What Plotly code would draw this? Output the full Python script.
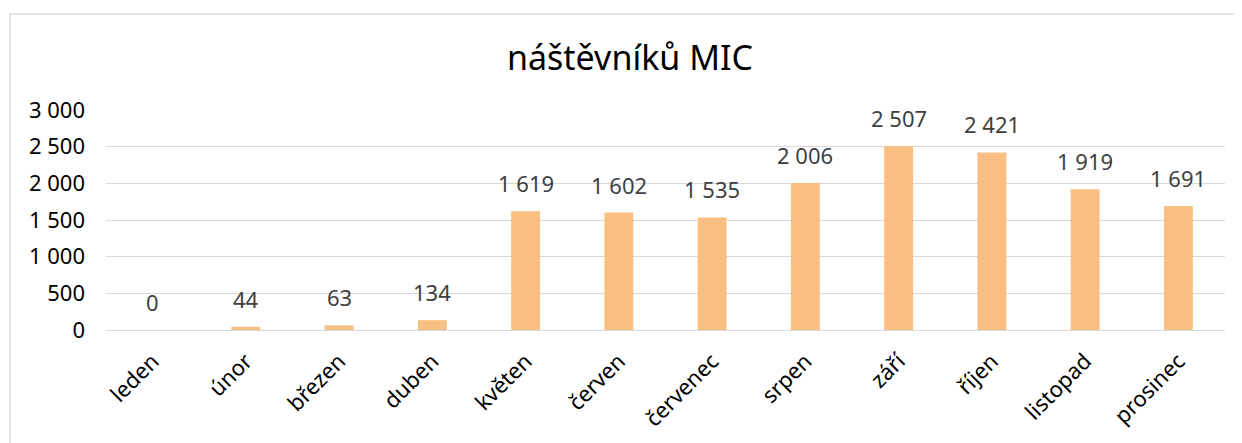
import plotly.graph_objects as go

months = ["leden", "únor", "březen", "duben", "květen", "červen", "červenec",
          "srpen", "září", "říjen", "listopad", "prosinec"]
visitors = [0, 44, 63, 134, 1619, 1602, 1535, 2006, 2507, 2421, 1919, 1691]
tick_vals = [0, 500, 1000, 1500, 2000, 2500, 3000]
tick_text = ["0", "500", "1 000", "1 500", "2 000", "2 500", "3 000"]
title_text = "náštěvníků MIC"

def fmt(v):
    return f"{v:,}".replace(",", " ")

FONT = "Noto Sans"
OFF = 8  # default page body margin

W, H = 1242 - OFF, 443 - OFF
ml = 106 - OFF
mt = 110 - OFF
mr = 1242 - 1225
mb = H - (330 - OFF)
pw, ph = W - ml - mr, H - mt - mb

fig = go.Figure(go.Bar(
    x=months, y=visitors,
    marker=dict(color="#F9BE82", line=dict(width=0)),
    cliponaxis=False,
))

for m, v in zip(months, visitors):
    fig.add_annotation(x=m, y=v, text=fmt(v), showarrow=False,
                       xref="x", yref="y", yanchor="bottom", yshift=11,
                       font=dict(family=FONT, size=22, color="#404040"))

fig.update_layout(
    width=W, height=H,
    margin=dict(l=ml, r=mr, t=mt, b=mb),
    paper_bgcolor="white", plot_bgcolor="white",
    bargap=0.69,
    showlegend=False,
    font=dict(family=FONT, color="black"),
    title=dict(text=title_text, x=(630 - OFF) / W, xref="container", xanchor="center",
               y=1 - (58 - OFF) / H, yref="container", yanchor="middle",
               font=dict(family=FONT, size=34, color="black")),
    xaxis=dict(tickangle=-45, tickfont=dict(family=FONT, size=22, color="black"),
               showline=False, ticks="", showgrid=False, automargin=False,
               ticklabelstandoff=13),
    yaxis=dict(range=[0, 3000], tickvals=tick_vals, ticktext=tick_text,
               tickfont=dict(family=FONT, size=22, color="black"),
               showgrid=True, gridcolor="#D9D9D9", gridwidth=1.3,
               zeroline=True, zerolinecolor="#D9D9D9", zerolinewidth=1.3,
               showline=False, ticks="", ticklabelstandoff=20, automargin=False),
    shapes=[dict(type="rect", xref="paper", yref="paper",
                 x0=(10 - 106) / pw, x1=(1242 + 30 - 106) / pw,
                 y0=-(mb + 30) / ph, y1=1 + (110 - 14) / ph,
                 line=dict(color="#D9D9D9", width=1.5), layer="below")],
)

fig.write_html("out.html")
